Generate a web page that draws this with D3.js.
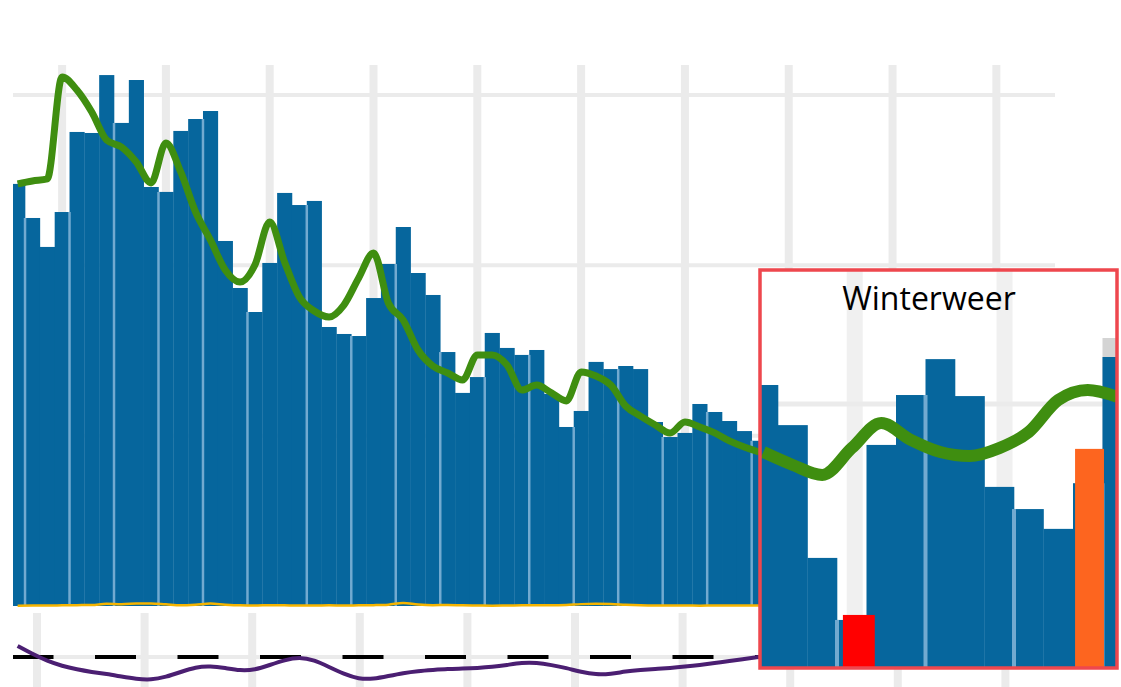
<!DOCTYPE html>
<html><head><meta charset="utf-8">
<script src="https://cdn.jsdelivr.net/npm/d3@7/dist/d3.min.js"></script>
<style>html,body{margin:0;padding:0;background:#fff;overflow:hidden}</style>
</head><body>
<svg id="chart" width="1121" height="687"></svg>
<script>
// ---------- data ----------
const barValues = [247.8,227.8,210.8,231.3,278.3,277.7,311.7,283.6,308.8,246,243.1,278.9,285.9,290.6,214.3,186.7,172.6,201.4,242.5,235.4,237.8,163.8,159.7,158.5,180.8,200.8,222.5,195.5,182.6,149.1,125.1,134.4,160.3,151.5,147.4,150.3,124.5,105.1,114.5,143.3,139.1,140.9,139.1,108,99.2,101.6,118.6,113.9,108.6,102.7,97];
const trendValues = [247.8,249.5,250.7,310.6,302.9,290,273.6,269.5,260.7,248.4,271.8,254.8,231.3,214.9,197.3,190.2,200.2,225.4,202,181.4,173.2,169.7,176.7,192.6,207.2,177.9,167.9,150.3,140.9,136.8,132.7,147.4,147.4,141.5,126.8,129.7,125.1,120.4,137.4,135,129.7,117.4,111.5,106.3,101.6,108,105.1,101.6,96.9,93.3,90.4];
const yellowValues = [0.2,0.3,0.3,0.4,0.5,0.6,1.3,1.1,1.4,1.5,1.0,0.5,0.8,1.4,0.8,0.4,0.3,0.5,0.4,0.3,0.3,0.4,0.3,0.4,0.5,0.8,1.8,0.9,0.5,0.6,0.4,0.3,0.2,0.3,0.4,0.5,0.4,0.6,1.1,1.3,1.2,0.7,0.4,0.3,0.3,0.3,0.2,0.3,0.3,0.3,0.3];
const purpleValues = [0.55,0.15,-0.2,-0.45,-0.62,-0.75,-0.85,-0.98,-1.1,-1.15,-1.0,-0.75,-0.5,-0.45,-0.55,-0.68,-0.65,-0.4,-0.15,0,-0.15,-0.5,-0.85,-1.1,-1.1,-0.95,-0.8,-0.7,-0.65,-0.6,-0.58,-0.55,-0.5,-0.4,-0.28,-0.28,-0.4,-0.55,-0.75,-0.88,-0.85,-0.72,-0.65,-0.6,-0.55,-0.48,-0.4,-0.3,-0.2,-0.1,0];
const groupBoundaries = [1,4,7,10,13,16,20,23,26,29,32,35,38,41,44,47,50];
const gridDays = [3,10,17,24,31,38,45,52,59,66];
const yTicks = [100,200,300];

const insetLabel = "Winterweer";
const insetBarValues = [107.2,92,41.7,18.2,84.5,103.4,117,103,68.6,60.2,52.7,70,117.8];
const insetTrendValues = [81.8,76.9,73.1,83.3,92.8,86.4,81.8,80.3,83.3,89.4,101.5,105.3,102.7];
const insetGroupBoundaries = [3,6,9,12];
const insetGridDays = [3.6,8.68];
const insetTicks = [100];
const insetBackBar = {start:12, end:13, value:125};
const insetHighlights = [{start:3.2, end:4.28, value:20.1, kind:"red"},{start:11.07, end:12.05, value:83, kind:"orange"}];

// ---------- styles ----------
const C = {bar:"#06669d", sep:"#72aad0", grid:"#ebebeb", green:"#3f8e10", yellow:"#f5b400",
  purple:"#4b1f72", dash:"#000", frame:"#ee474e", red:"#ff0000", orange:"#fd651f", back:"#d4d4d4"};

const svg = d3.select("#chart");
const x = d3.scaleLinear().domain([0,51]).range([10.2,766.5]);
const xLow = d3.scaleLinear().domain([0,7]).range([-16.8,90.8]);
const y = d3.scaleLinear().domain([0,300]).range([606,95]);
const yLow = d3.scaleLinear().domain([-1.5,1.5]).range([687,627]);

const defs = svg.append("defs");
defs.append("clipPath").attr("id","plotClip").append("rect").attr("x",13).attr("y",0).attr("width",1042).attr("height",687);
defs.append("clipPath").attr("id","insetClip").append("rect").attr("x",760).attr("y",270).attr("width",357).attr("height",398);

const main = svg.append("g").attr("clip-path","url(#plotClip)");

// grid: upper
main.append("g").selectAll("line").data(gridDays).join("line")
  .attr("x1",d=>x(d+0.5)).attr("x2",d=>x(d+0.5)).attr("y1",65).attr("y2",606)
  .attr("stroke",C.grid).attr("stroke-width",8);
main.append("g").selectAll("line").data(yTicks).join("line")
  .attr("x1",13).attr("x2",1055).attr("y1",d=>y(d)).attr("y2",d=>y(d))
  .attr("stroke",C.grid).attr("stroke-width",4);
// grid: lower
main.append("g").selectAll("line").data(gridDays).join("line")
  .attr("x1",d=>xLow(d+0.5)).attr("x2",d=>xLow(d+0.5)).attr("y1",613).attr("y2",687)
  .attr("stroke",C.grid).attr("stroke-width",8);
main.append("line").attr("x1",13).attr("x2",1055).attr("y1",yLow(0)).attr("y2",yLow(0))
  .attr("stroke",C.grid).attr("stroke-width",4);

// bars
main.append("g").selectAll("rect").data(barValues).join("rect")
  .attr("x",(d,i)=>x(i)).attr("width",(d,i)=>x(i+1)-x(i)+0.3)
  .attr("y",d=>y(d)).attr("height",d=>y(0)-y(d)).attr("fill",C.bar);
// group separators
main.append("g").selectAll("line").data(groupBoundaries.filter(b=>b<barValues.length)).join("line")
  .attr("x1",b=>x(b)).attr("x2",b=>x(b)).attr("y1",y(0))
  .attr("y2",b=>y(Math.min(barValues[b-1], barValues[b])))
  .attr("stroke",C.sep).attr("stroke-width",2.5);

// yellow line
main.append("path").datum(yellowValues)
  .attr("d",d3.line().x((d,i)=>x(i+0.5)).y(d=>y(d)).curve(d3.curveMonotoneX))
  .attr("fill","none").attr("stroke",C.yellow).attr("stroke-width",2.5);

// green trend
main.append("path").datum(trendValues)
  .attr("d",d3.line().x((d,i)=>x(i+0.5)).y(d=>y(d)).curve(d3.curveMonotoneX))
  .attr("fill","none").attr("stroke",C.green).attr("stroke-width",7).attr("stroke-linejoin","round");

// lower panel: dashed zero line + purple line
main.append("line").attr("x1",12.5).attr("x2",1055).attr("y1",yLow(0)).attr("y2",yLow(0))
  .attr("stroke",C.dash).attr("stroke-width",4).attr("stroke-dasharray","41 41.5");
main.append("path").datum(purpleValues)
  .attr("d",d3.line().x((d,i)=>x(i+0.5)).y(d=>yLow(d)).curve(d3.curveBasis))
  .attr("fill","none").attr("stroke",C.purple).attr("stroke-width",4);

// ---------- inset ----------
const ix = d3.scaleLinear().domain([0,13]).range([748.5,1132]);
const iy = d3.scaleLinear().domain([0,100]).range([668,404]);
const inset = svg.append("g");
inset.append("rect").attr("x",760).attr("y",270).attr("width",357).attr("height",398).attr("fill","#fff");
const ig = inset.append("g").attr("clip-path","url(#insetClip)");
ig.append("g").selectAll("line").data(insetGridDays).join("line")
  .attr("x1",d=>ix(d)).attr("x2",d=>ix(d)).attr("y1",270).attr("y2",668)
  .attr("stroke","#f0f0f0").attr("stroke-width",16);
ig.append("g").selectAll("line").data(insetTicks).join("line")
  .attr("x1",760).attr("x2",1117).attr("y1",d=>iy(d)).attr("y2",d=>iy(d))
  .attr("stroke",C.grid).attr("stroke-width",5);
ig.append("rect").attr("x",ix(insetBackBar.start)).attr("width",ix(insetBackBar.end)-ix(insetBackBar.start))
  .attr("y",iy(insetBackBar.value)).attr("height",iy(0)-iy(insetBackBar.value)).attr("fill",C.back);
ig.append("g").selectAll("rect").data(insetBarValues).join("rect")
  .attr("x",(d,i)=>ix(i)).attr("width",(d,i)=>ix(i+1)-ix(i)+0.3)
  .attr("y",d=>iy(d)).attr("height",d=>iy(0)-iy(d)).attr("fill",C.bar);
ig.append("g").selectAll("line").data(insetGroupBoundaries).join("line")
  .attr("x1",b=>ix(b)).attr("x2",b=>ix(b)).attr("y1",iy(0))
  .attr("y2",b=>iy(Math.min(insetBarValues[b-1], insetBarValues[b])))
  .attr("stroke",C.sep).attr("stroke-width",4);
ig.append("g").selectAll("rect").data(insetHighlights).join("rect")
  .attr("x",d=>ix(d.start)).attr("width",d=>ix(d.end)-ix(d.start))
  .attr("y",d=>iy(d.value)).attr("height",d=>iy(0)-iy(d.value))
  .attr("fill",d=>d.kind==="red"?C.red:C.orange);
ig.append("path").datum(insetTrendValues)
  .attr("d",d3.line().x((d,i)=>ix(i+0.5)).y(d=>iy(d)).curve(d3.curveMonotoneX))
  .attr("fill","none").attr("stroke",C.green).attr("stroke-width",12).attr("stroke-linejoin","round");
inset.append("text").attr("x",929).attr("y",310).attr("text-anchor","middle")
  .attr("font-family","'Open Sans', 'Noto Sans', sans-serif").attr("font-size",32)
  .attr("fill","#000").text(insetLabel);
inset.append("rect").attr("x",760).attr("y",270).attr("width",357).attr("height",398)
  .attr("fill","none").attr("stroke",C.frame).attr("stroke-width",3.5);
</script>
</body></html>
